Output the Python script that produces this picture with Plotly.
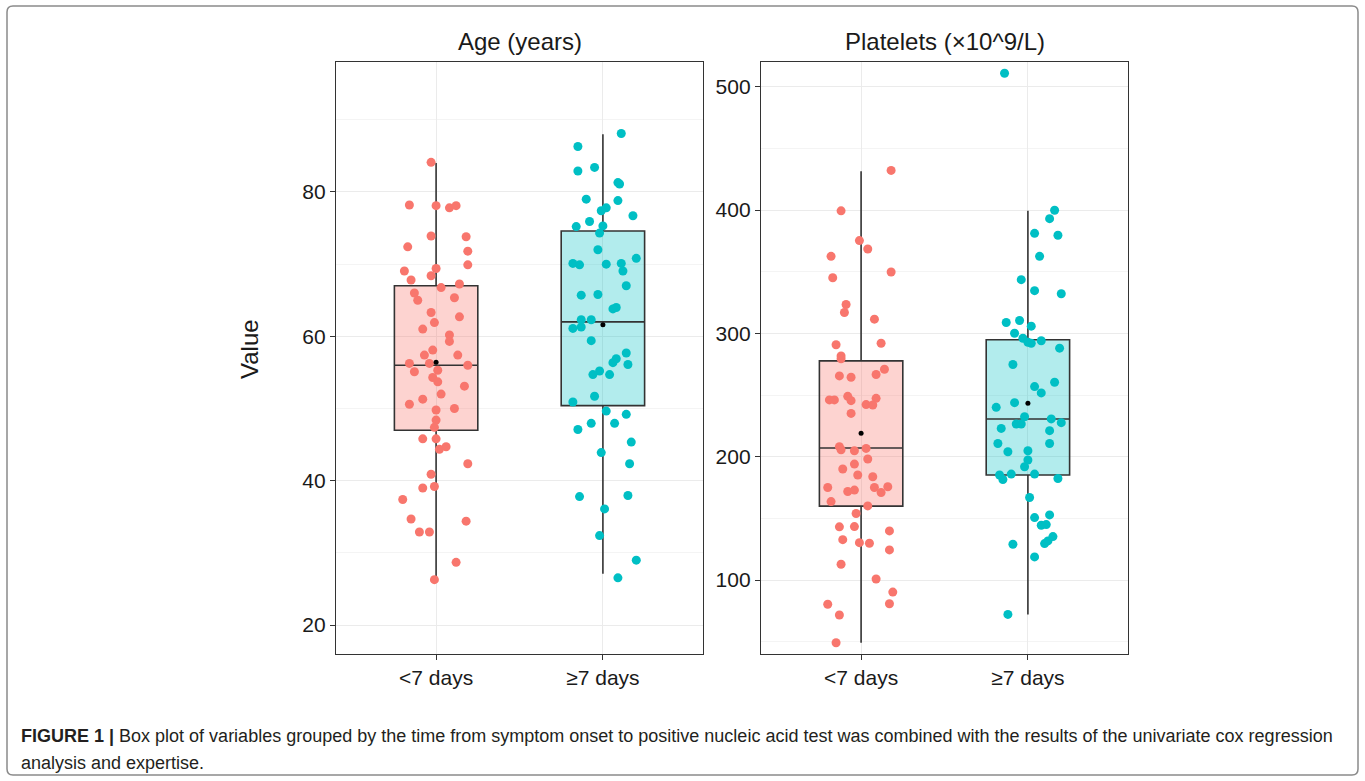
import plotly.graph_objects as go

W, H = 1365, 781

categories = ["<7 days", "≥7 days"]
cat_pos = [1, 2]

# ---- Age (years) ----
age_lt7_values = [84.1, 78.2, 78.1, 77.8, 78.1, 73.9, 73.8, 72.4, 71.8, 69.9, 69.05, 69.4, 68.4, 67.8,
                  67.25, 66.75, 66.0, 65.0, 65.35, 63.3, 62.7, 61.9, 61.0, 60.2, 59.3, 58.1, 57.4, 57.4,
                  56.25, 56.25, 56.0, 55.1, 55.3, 54.3, 53.7, 53.1, 52.0, 51.3, 50.6, 50.0, 49.8, 48.4,
                  47.4, 45.8, 45.8, 44.35, 44.7, 42.35, 40.9, 39.0, 39.2, 37.4, 34.7, 34.4, 32.9, 32.9,
                  28.7, 26.3]
age_lt7_jitter = [-0.03, -0.16, 0.0, 0.08, 0.12, -0.03, 0.18, -0.17, 0.19, 0.19, -0.19, 0.0, -0.03, -0.15,
                  0.14, 0.03, -0.13, -0.11, 0.11, -0.03, 0.14, -0.01, -0.08, 0.08, 0.08, -0.02, -0.07, 0.13,
                  -0.16, -0.04, 0.19, -0.13, 0.01, -0.02, 0.01, 0.17, 0.03, -0.08, -0.16, 0.11, 0.0, 0.0,
                  -0.01, -0.08, 0.0, 0.02, 0.06, 0.19, -0.03, -0.08, -0.01, -0.2, -0.15, 0.18, -0.10, -0.04,
                  0.12, -0.01]
age_ge7_values = [88.1, 86.3, 83.4, 82.9, 81.3, 81.1, 79.0, 78.8, 77.8, 77.4, 76.7, 75.9, 75.2, 75.3, 74.3,
                  72.0, 70.8, 70.1, 69.9, 70.0, 70.1, 69.05, 67.0, 65.7, 65.8, 64.0, 63.8, 62.3, 62.3, 61.3,
                  61.1, 59.4, 57.7, 56.9, 56.35, 56.1, 55.2, 54.7, 54.7, 51.7, 50.9, 49.65, 49.2, 47.95,
                  47.95, 47.1, 45.35, 43.9, 42.35, 37.95, 37.8, 36.1, 32.4, 29.0, 26.55]
age_ge7_jitter = [0.11, -0.15, -0.05, -0.15, 0.09, 0.10, -0.10, 0.09, 0.02, -0.01, 0.18, -0.08, -0.16, 0.0, -0.02,
                  -0.03, 0.2, -0.18, -0.14, 0.02, 0.11, 0.12, 0.14, -0.13, -0.03, 0.08, 0.06, -0.13, -0.07, -0.13,
                  -0.18, -0.07, 0.14, 0.08, 0.06, 0.15, -0.02, -0.06, 0.04, -0.05, -0.18, 0.02, 0.14, -0.07,
                  0.07, -0.15, 0.17, -0.01, 0.16, 0.15, -0.14, 0.01, -0.02, 0.2, 0.09]
# box statistics: q1, median, q3, lower whisker, upper whisker, mean
age_q1 = [47.0, 50.4]
age_median = [56.0, 62.0]
age_q3 = [67.0, 74.6]
age_lower = [26.2, 27.1]
age_upper = [84.0, 88.0]
age_mean = [56.4, 61.6]

# ---- Platelets (x10^9/L) ----
plt_lt7_values = [432.1, 399.3, 375.2, 368.4, 362.4, 349.7, 345.1, 323.4, 316.9, 311.5, 292.0, 290.7, 281.7,
                  279.3, 270.9, 266.6, 265.5, 264.4, 246.0, 246.0, 248.9, 245.4, 247.3, 242.2, 241.9, 235.1,
                  208.1, 205.6, 204.8, 206.7, 198.1, 190.0, 194.0, 185.1, 183.7, 175.0, 171.8, 172.9, 175.0,
                  170.9, 175.6, 163.6, 160.1, 153.9, 143.1, 143.3, 132.7, 130.3, 129.8, 139.8, 124.4, 112.8,
                  100.8, 90.2, 80.3, 80.7, 71.6, 49.1]
plt_lt7_jitter = [0.18, -0.12, -0.01, 0.04, -0.18, 0.18, -0.17, -0.09, -0.10, 0.08, 0.12, -0.15, -0.12,
                  -0.12, 0.14, 0.09, -0.13, -0.06, -0.19, -0.16, -0.08, -0.06, 0.09, 0.03, 0.07, -0.06,
                  -0.13, -0.12, -0.04, 0.03, 0.04, -0.11, -0.04, -0.02, 0.07, -0.20, -0.08, -0.04, 0.08,
                  0.12, 0.16, -0.18, 0.04, -0.03, -0.13, -0.04, -0.11, -0.01, 0.05, 0.17, 0.17, -0.12,
                  0.09, 0.19, -0.20, 0.17, -0.13, -0.15]
plt_ge7_values = [510.9, 399.8, 393.0, 381.1, 379.5, 362.4, 343.5, 334.6, 332.1, 308.8, 310.4, 305.8, 300.1,
                  296.0, 292.8, 292.0, 294.0, 288.0, 274.7, 260.3, 256.8, 251.7, 243.8, 240.0, 232.4, 230.6,
                  227.6, 226.5, 226.5, 222.9, 221.1, 210.7, 210.7, 204.0, 204.8, 197.3, 191.8, 185.1, 181.5,
                  185.9, 185.9, 182.3, 166.9, 150.6, 152.8, 144.4, 144.9, 135.2, 131.7, 129.5, 129.0, 118.7,
                  72.1]
plt_ge7_jitter = [-0.14, 0.16, 0.13, 0.04, 0.18, 0.07, -0.04, 0.04, 0.2, -0.13, -0.05, 0.02, -0.08,
                  -0.03, 0.0, 0.02, 0.08, 0.19, -0.09, 0.16, 0.04, 0.08, -0.08, -0.19, -0.02, 0.14,
                  0.2, -0.07, -0.04, -0.16, 0.13, -0.18, 0.13, -0.12, 0.0, 0.0, -0.02, -0.17, -0.15,
                  -0.10, 0.04, 0.18, 0.01, 0.04, 0.13, 0.08, 0.11, 0.15, 0.12, 0.10, -0.09, 0.04,
                  -0.12]
plt_q1 = [159.9, 185.1]
plt_median = [207.0, 230.6]
plt_q3 = [277.7, 294.8]
plt_lower = [49.1, 72.1]
plt_upper = [431.5, 399.3]
plt_mean = [218.9, 243.3]

panel_titles = ["Age (years)", "Platelets (×10^9/L)"]
y_title = "Value"
caption_line1 = ("<b>FIGURE 1 |</b> Box plot of variables grouped by the time from symptom onset to positive "
                 "nucleic acid test was combined with the results of the univariate cox regression")
caption_line2 = "analysis and expertise."

point_colors = ["#F8766D", "#00BFC4"]
fill_colors = ["rgba(248,118,109,0.32)", "rgba(0,191,196,0.30)"]

fig = go.Figure()


def px_x(p):
    return p / W


def px_y(p):
    return 1 - p / H


panels = [
    dict(xa="x", ya="y",
         vals=[age_lt7_values, age_ge7_values], jit=[age_lt7_jitter, age_ge7_jitter],
         q1=age_q1, med=age_median, q3=age_q3, lo=age_lower, hi=age_upper, mean=age_mean),
    dict(xa="x2", ya="y2",
         vals=[plt_lt7_values, plt_ge7_values], jit=[plt_lt7_jitter, plt_ge7_jitter],
         q1=plt_q1, med=plt_median, q3=plt_q3, lo=plt_lower, hi=plt_upper, mean=plt_mean),
]

for p in panels:
    for i in range(2):
        fig.add_trace(go.Box(
            x=[cat_pos[i]], q1=[p["q1"][i]], median=[p["med"][i]], q3=[p["q3"][i]],
            lowerfence=[p["lo"][i]], upperfence=[p["hi"][i]],
            width=0.5, whiskerwidth=0, boxpoints=False,
            fillcolor=fill_colors[i], line=dict(color="#333333", width=1.6),
            xaxis=p["xa"], yaxis=p["ya"], showlegend=False, hoverinfo="skip"))
    for i in range(2):
        fig.add_trace(go.Scatter(
            x=[cat_pos[i] + j for j in p["jit"][i]], y=p["vals"][i], mode="markers",
            marker=dict(color=point_colors[i], size=9, line=dict(width=0)),
            xaxis=p["xa"], yaxis=p["ya"], showlegend=False, hoverinfo="skip"))
    fig.add_trace(go.Scatter(
        x=cat_pos, y=p["mean"], mode="markers",
        marker=dict(color="black", size=5),
        xaxis=p["xa"], yaxis=p["ya"], showlegend=False, hoverinfo="skip"))

ydom = [px_y(654), px_y(62)]
common_x = dict(range=[0.4, 2.6], tickvals=cat_pos, ticktext=categories,
                showgrid=True, gridcolor="#EBEBEB", gridwidth=1,
                showline=True, linecolor="#333333", linewidth=1.2, mirror=True,
                ticks="outside", ticklen=5, tickcolor="#333333",
                tickfont=dict(family="Liberation Sans, Arial, sans-serif", size=21, color="#1a1a1a"),
                zeroline=False, fixedrange=True)
common_y = dict(showgrid=True, gridcolor="#EBEBEB", gridwidth=1,
                showline=True, linecolor="#333333", linewidth=1.2, mirror=True,
                ticks="outside", ticklen=5, tickcolor="#333333",
                tickfont=dict(family="Liberation Sans, Arial, sans-serif", size=21, color="#1a1a1a"),
                zeroline=False, fixedrange=True, domain=ydom)

fig.update_layout(
    width=W, height=H,
    margin=dict(l=0, r=0, t=0, b=0),
    paper_bgcolor="white", plot_bgcolor="white",
    showlegend=False,
    xaxis=dict(common_x, domain=[px_x(336), px_x(703)], anchor="y"),
    xaxis2=dict(common_x, domain=[px_x(761), px_x(1128)], anchor="y2"),
    yaxis=dict(common_y, range=[16, 98], tick0=0, dtick=20, anchor="x",
               minor=dict(dtick=10, showgrid=True, gridcolor="#F4F4F4", gridwidth=1)),
    yaxis2=dict(common_y, range=[40, 520], tick0=0, dtick=100, anchor="x2",
                minor=dict(dtick=50, showgrid=True, gridcolor="#F4F4F4", gridwidth=1)),
    hovermode=False,
)

title_font = dict(family="Liberation Sans, Arial, sans-serif", size=24, color="#1a1a1a")
annotations = [
    dict(text=panel_titles[0], x=px_x(519.5), y=px_y(42), xref="paper", yref="paper",
         xanchor="center", yanchor="middle", showarrow=False, font=title_font),
    dict(text=panel_titles[1], x=px_x(944.5), y=px_y(42), xref="paper", yref="paper",
         xanchor="center", yanchor="middle", showarrow=False, font=title_font),
    dict(text=y_title, x=px_x(249), y=px_y(349), xref="paper", yref="paper", textangle=-90,
         xanchor="center", yanchor="middle", showarrow=False, font=title_font),
    dict(text=caption_line1, x=px_x(19), y=px_y(736), xref="paper", yref="paper",
         xanchor="left", yanchor="middle", showarrow=False,
         font=dict(family="Liberation Sans, Arial, sans-serif", size=18, color="#231F20")),
    dict(text=caption_line2, x=px_x(19), y=px_y(763), xref="paper", yref="paper",
         xanchor="left", yanchor="middle", showarrow=False,
         font=dict(family="Liberation Sans, Arial, sans-serif", size=18, color="#231F20")),
]
fig.update_layout(annotations=annotations)

# rounded border around figure + caption
x0, x1 = px_x(7), px_x(1358)
y0, y1 = px_y(775), px_y(6)
rx, ry = 6 / W, 6 / H
path = (f"M {x0+rx},{y1} L {x1-rx},{y1} Q {x1},{y1} {x1},{y1-ry} "
        f"L {x1},{y0+ry} Q {x1},{y0} {x1-rx},{y0} "
        f"L {x0+rx},{y0} Q {x0},{y0} {x0},{y0+ry} "
        f"L {x0},{y1-ry} Q {x0},{y1} {x0+rx},{y1} Z")
fig.add_shape(type="path", path=path, xref="paper", yref="paper",
              line=dict(color="#8a8a8a", width=1.5), fillcolor="rgba(0,0,0,0)")

fig.write_html("out.html",
               config={"displayModeBar": False, "staticPlot": True},
               post_script="document.body.style.margin='0px';document.body.style.overflow='hidden';")
